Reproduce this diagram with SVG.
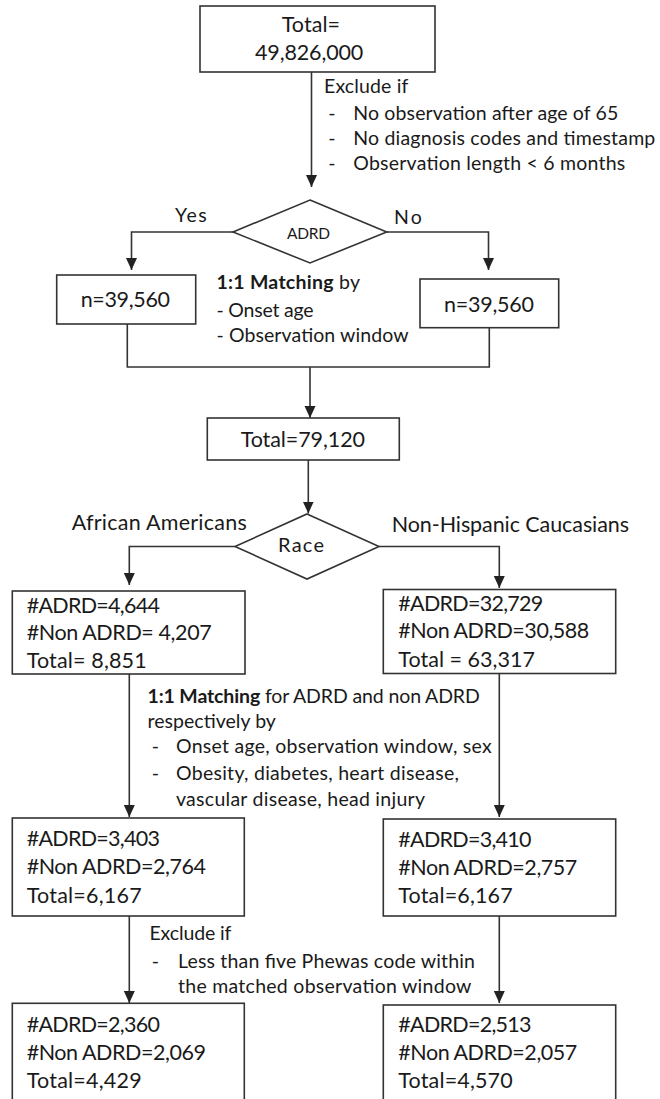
<svg xmlns="http://www.w3.org/2000/svg" width="660" height="1099" viewBox="0 0 660 1099">
<style>
.box{fill:#fff;stroke:#333;stroke-width:1.6}
.dia{fill:#fff;stroke:#333;stroke-width:1.6}
.ln{fill:none;stroke:#333;stroke-width:1.6}
text{font-family:Lato,"Open Sans","Liberation Sans",sans-serif;fill:#1a1a1a}
.s{font-size:19.5px}
.b{font-size:21.5px}
.d{font-size:15.5px}
.r{font-size:20px}
.bold{font-weight:bold}
</style>
<defs>
<marker id="ah" markerUnits="userSpaceOnUse" markerWidth="12" markerHeight="12" refX="12" refY="5.5" orient="auto">
<path d="M0,0 L12,5.5 L0,11 z" fill="#222"/>
</marker>
</defs>
<rect width="660" height="1099" fill="#fff"/>
<g id="connectors">
<path class="ln" d="M311.5,72 V187" marker-end="url(#ah)"/>
<path class="ln" d="M233,232 H131.5 V270" marker-end="url(#ah)"/>
<path class="ln" d="M386.7,232 H488.5 V270" marker-end="url(#ah)"/>
<path class="ln" d="M127.3,324 V367 H489.3 V328"/>
<path class="ln" d="M310,367 V418" marker-end="url(#ah)"/>
<path class="ln" d="M308.3,460 V513.5" marker-end="url(#ah)"/>
<path class="ln" d="M235,546.5 H129.3 V585" marker-end="url(#ah)"/>
<path class="ln" d="M379,546.5 H499.3 V588" marker-end="url(#ah)"/>
<path class="ln" d="M129.3,674 V817" marker-end="url(#ah)"/>
<path class="ln" d="M499.3,673.5 V817" marker-end="url(#ah)"/>
<path class="ln" d="M129.3,916 V1003" marker-end="url(#ah)"/>
<path class="ln" d="M499.3,916 V1003" marker-end="url(#ah)"/>
</g>
<g id="total-start">
<rect class="box" x="200" y="6" width="235" height="66"/>
<text class="b" x="281.7" y="32" textLength="58.3">Total=</text>
<text class="b" x="255" y="60" textLength="108.3">49,826,000</text>
</g>
<g id="exclude-1">
<text class="s" x="324" y="93.3" textLength="84.3">Exclude if</text>
<text class="s" x="328.3" y="120">-</text>
<text class="s" x="353.3" y="120" textLength="265">No observation after age of 65</text>
<text class="s" x="328.3" y="145">-</text>
<text class="s" x="353.3" y="145" textLength="302">No diagnosis codes and timestamp</text>
<text class="s" x="328.3" y="170">-</text>
<text class="s" x="353.3" y="170" textLength="272">Observation length &lt; 6 months</text>
</g>
<g id="adrd-decision">
<polygon class="dia" points="310,200 386.7,232 310,263 233,232"/>
<text class="d" x="287" y="239" textLength="43">ADRD</text>
<text class="s" x="175" y="222" textLength="31.7">Yes</text>
<text class="s" x="394" y="224" textLength="27.7">No</text>
</g>
<g id="adrd-yes">
<rect class="box" x="56.7" y="275" width="139" height="49"/>
<text class="b" x="80.7" y="307" textLength="89.3">n=39,560</text>
</g>
<g id="adrd-no">
<rect class="box" x="420" y="279" width="138.7" height="48.7"/>
<text class="b" x="444" y="311.7" textLength="90">n=39,560</text>
</g>
<g id="matching-1">
<text class="s" x="216.5" y="289" textLength="143.5"><tspan class="bold">1:1 Matching</tspan> by</text>
<text class="s" x="216.5" y="316.7" textLength="97">- Onset age</text>
<text class="s" x="216.5" y="341.7" textLength="192">- Observation window</text>
</g>
<g id="total-matched">
<rect class="box" x="207.3" y="418" width="192" height="42"/>
<text class="b" x="240.7" y="446.7" textLength="124.3">Total=79,120</text>
</g>
<g id="race-decision">
<polygon class="dia" points="307,514 379,546.5 307,579 235,546.5"/>
<text class="r" x="278" y="552" textLength="46">Race</text>
<text class="b" x="71.7" y="530" textLength="175">African Americans</text>
<text class="b" x="391.7" y="531.7" textLength="237.3">Non-Hispanic Caucasians</text>
</g>
<g id="aa-1">
<rect class="box" x="12.3" y="591" width="232.7" height="83"/>
<text class="b" x="26.7" y="612.7" textLength="133.3">#ADRD=4,644</text>
<text class="b" x="26.7" y="640" textLength="185">#Non ADRD= 4,207</text>
<text class="b" x="26.7" y="668.3" textLength="120">Total= 8,851</text>
</g>
<g id="nhc-1">
<rect class="box" x="383.3" y="589.5" width="232.4" height="84"/>
<text class="b" x="398.3" y="610.7" textLength="145">#ADRD=32,729</text>
<text class="b" x="398.3" y="638.3" textLength="191">#Non ADRD=30,588</text>
<text class="b" x="398.3" y="666.7" textLength="136.7">Total = 63,317</text>
</g>
<g id="matching-2">
<text class="s" x="147.5" y="703" textLength="332.3"><tspan class="bold">1:1 Matching</tspan> for ADRD and non ADRD</text>
<text class="s" x="147.5" y="728.3" textLength="128.4">respectively by</text>
<text class="s" x="151.7" y="753.3">-</text>
<text class="s" x="176" y="753.3" textLength="315.7">Onset age, observation window, sex</text>
<text class="s" x="151.7" y="780">-</text>
<text class="s" x="176" y="780" textLength="282.9">Obesity, diabetes, heart disease,</text>
<text class="s" x="176" y="805.7" textLength="249">vascular disease, head injury</text>
</g>
<g id="aa-2">
<rect class="box" x="12.3" y="818" width="232" height="98"/>
<text class="b" x="26.7" y="846" textLength="133.3">#ADRD=3,403</text>
<text class="b" x="26.7" y="874" textLength="179.3">#Non ADRD=2,764</text>
<text class="b" x="26.7" y="903.3" textLength="115">Total=6,167</text>
</g>
<g id="nhc-2">
<rect class="box" x="383.3" y="819" width="232.4" height="97"/>
<text class="b" x="398.3" y="846.7" textLength="133.3">#ADRD=3,410</text>
<text class="b" x="398.3" y="875" textLength="179">#Non ADRD=2,757</text>
<text class="b" x="398.3" y="903.3" textLength="114.4">Total=6,167</text>
</g>
<g id="exclude-2">
<text class="s" x="149.4" y="940" textLength="82">Exclude if</text>
<text class="s" x="151.7" y="968.3">-</text>
<text class="s" x="178" y="968.3" textLength="297">Less than five Phewas code within</text>
<text class="s" x="178" y="993.3" textLength="293.4">the matched observation window</text>
</g>
<g id="aa-3">
<rect class="box" x="12.3" y="1003.3" width="232" height="100"/>
<text class="b" x="26.7" y="1031.7" textLength="133.3">#ADRD=2,360</text>
<text class="b" x="26.7" y="1060" textLength="179.3">#Non ADRD=2,069</text>
<text class="b" x="26.7" y="1088.3" textLength="115">Total=4,429</text>
</g>
<g id="nhc-3">
<rect class="box" x="383.3" y="1005" width="232.4" height="100"/>
<text class="b" x="398.3" y="1031.7" textLength="133.3">#ADRD=2,513</text>
<text class="b" x="398.3" y="1060" textLength="179">#Non ADRD=2,057</text>
<text class="b" x="398.3" y="1088.3" textLength="114.4">Total=4,570</text>
</g>
</svg>
